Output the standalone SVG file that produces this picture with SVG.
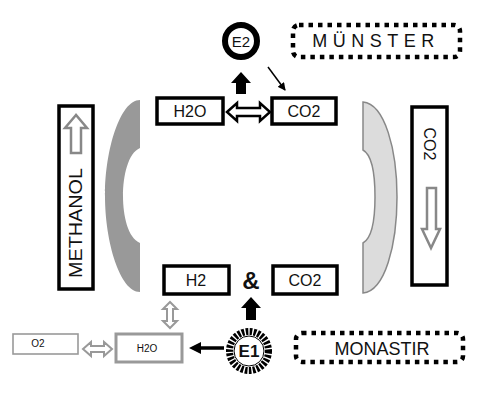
<svg xmlns="http://www.w3.org/2000/svg" width="486" height="396" viewBox="0 0 486 396">
<style>
text{font-family:"Liberation Sans",Arial,sans-serif;fill:#111}
.box{fill:#fff;stroke:#000;stroke-width:3.5}
.gbox{fill:#fff;stroke:#999;stroke-width:3}
.tbox{fill:#fff;stroke:#999;stroke-width:1.6}
.lbl{font-size:16px;text-anchor:middle}
.dot{fill:none;stroke:#000;stroke-width:4.5;stroke-dasharray:4.5 5}
.garr{fill:#fff;stroke:#999;stroke-width:2}
.oarr{fill:#fff;stroke:#888;stroke-width:2.5}
</style>
<defs>
<marker id="ah" markerWidth="8" markerHeight="8" refX="7" refY="4" orient="auto" markerUnits="userSpaceOnUse">
<path d="M0,0 L8,4 L0,8 Z" fill="#000"/>
</marker>
</defs>
<g id="lens-left"><path d="M140 100 C120 100 105 150 105 196 C105 242 120 292 140 292 L140 243 C128 238 123 216 123 196 C123 176 128 153 140 148 Z" fill="#999"/></g>
<g id="lens-right"><path d="M363 102 C385 104 397 150 397 197 C397 245 385 291 363 293 L363 243 C372 238 375 218 375 197 C375 176 372 155 363 150 Z" fill="#dcdcdc" stroke="#888" stroke-width="1.5"/></g>
<g id="methanol"><rect class="box" x="59" y="106" width="34" height="183"/>
<path class="oarr" d="M76 115 L65 128 L71 128 L71 153 L81 153 L81 128 L87 128 Z"/>
<text class="lbl" transform="translate(82,223) rotate(-90)" style="font-size:19px" textLength="110" lengthAdjust="spacingAndGlyphs">METHANOL</text></g>
<g id="co2-right"><rect class="box" x="412" y="107" width="35" height="178"/>
<text class="lbl" transform="translate(424,144) rotate(90)">CO2</text>
<path class="oarr" d="M431 248 L422 229 L427 229 L427 188 L436 188 L436 229 L440 229 Z"/></g>
<g id="e2"><circle cx="241" cy="41" r="16" fill="#fff" stroke="#000" stroke-width="6"/><text x="241" y="46.5" text-anchor="middle" style="font-size:15px">E2</text></g>
<g id="munster"><rect class="dot" x="293" y="25" width="167" height="32" rx="6"/><text x="376" y="47" text-anchor="middle" style="font-size:18px;letter-spacing:5.5px">MÜNSTER</text></g>
<g id="h2o-top"><rect class="box" x="157" y="98" width="66" height="26"/><text class="lbl" x="190" y="117">H2O</text></g>
<g id="co2-top"><rect class="box" x="272" y="98" width="64" height="26"/><text class="lbl" x="304" y="117">CO2</text></g>
<g id="h2"><rect class="box" x="164" y="266" width="65" height="28"/><text class="lbl" x="196" y="286">H2</text></g>
<g id="amp"><text x="251" y="289" text-anchor="middle" style="font-size:24px;font-weight:bold">&amp;</text></g>
<g id="co2-bottom"><rect class="box" x="273" y="266" width="64" height="28"/><text class="lbl" x="305" y="286">CO2</text></g>
<g id="e1"><circle cx="249" cy="351" r="19.5" fill="#fff" stroke="#000" stroke-width="7" stroke-dasharray="2.6 1.4"/><circle cx="249" cy="351" r="15" fill="#fff" stroke="#000" stroke-width="1"/><text x="249" y="357" text-anchor="middle" style="font-size:17px;font-weight:bold">E1</text></g>
<g id="monastir"><rect class="dot" x="296" y="333" width="167" height="29" rx="6"/><text x="382" y="355" text-anchor="middle" style="font-size:18px">MONASTIR</text></g>
<g id="h2o-bottom"><rect class="gbox" x="116" y="334" width="66" height="28"/><text x="147" y="352" text-anchor="middle" style="font-size:10px">H2O</text></g>
<g id="o2"><rect class="tbox" x="13" y="334" width="65" height="20"/><text x="38" y="347" text-anchor="middle" style="font-size:10px">O2</text></g>
<g id="connectors">
<path d="M227 112 L237 103 L237 108 L260 108 L260 103 L270 112 L260 121 L260 116 L237 116 L237 121 Z" fill="#fff" stroke="#000" stroke-width="2.5"/>
<path d="M241 72 L231 83 L236 83 L236 94 L246 94 L246 83 L251 83 Z" fill="#000"/>
<line x1="268" y1="67" x2="285" y2="90" stroke="#000" stroke-width="1.5" marker-end="url(#ah)"/>
<path d="M251 297 L241 308 L246 308 L246 320 L256 320 L256 308 L261 308 Z" fill="#000"/>
<line x1="224" y1="348" x2="198" y2="348" stroke="#000" stroke-width="3.5"/>
<path d="M189 348 L201 342 L201 354 Z" fill="#000"/>
<path class="garr" d="M170 302 L163 309 L167 309 L167 321 L163 321 L170 328 L177 321 L173 321 L173 309 L177 309 Z"/>
<path class="garr" d="M83 349 L91 342 L91 346 L104 346 L104 342 L112 349 L104 356 L104 352 L91 352 L91 356 Z"/>
</g>
</svg>
